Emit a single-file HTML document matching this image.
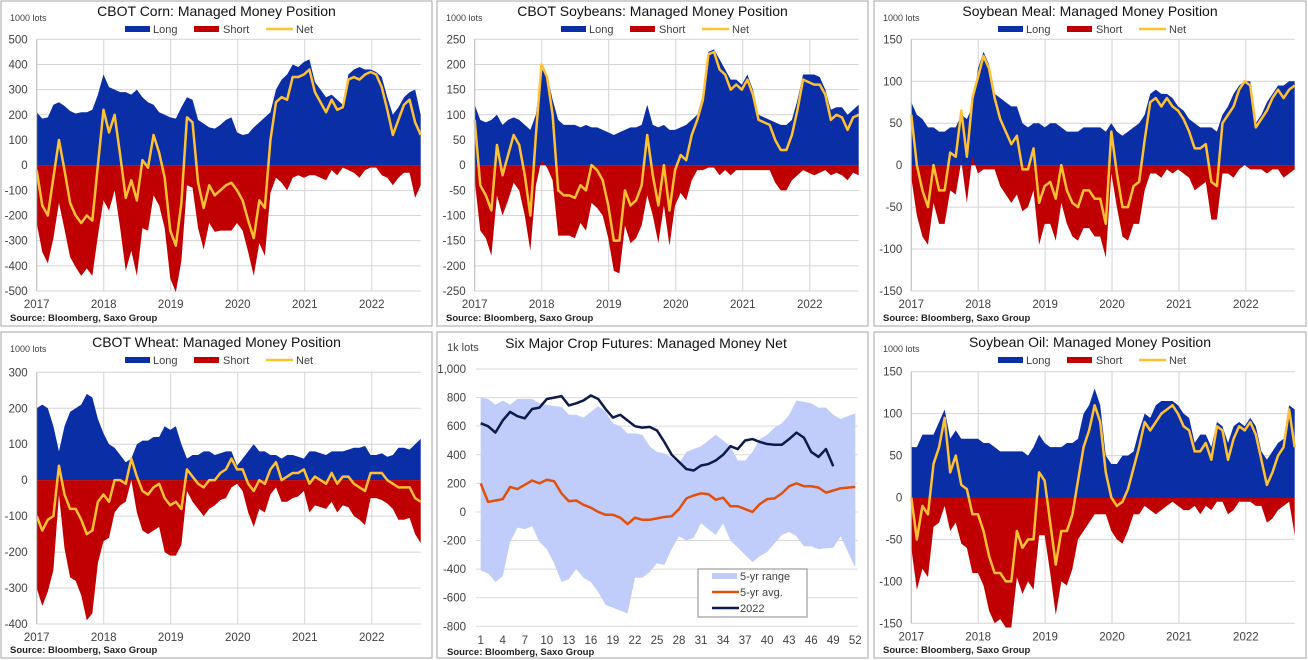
<!DOCTYPE html>
<html><head><meta charset="utf-8"><style>
html,body{margin:0;padding:0;background:#fff;}
svg{display:block;font-family:"Liberation Sans",sans-serif;}
</style></head><body>
<svg id="root" width="1308" height="660" viewBox="0 0 1308 660" xmlns="http://www.w3.org/2000/svg"></svg>
<script>
const years = ['2017','2018','2019','2020','2021','2022'];
const cornLong = [210,185,190,240,250,235,215,205,210,210,220,280,360,310,300,290,290,280,300,270,250,240,210,200,190,185,230,270,260,180,165,150,145,160,180,190,130,120,125,150,170,190,210,300,340,360,400,390,410,420,330,300,270,280,260,240,360,380,390,380,380,370,350,270,200,230,270,290,300,200];
const cornNet = [-20,-160,-200,-50,100,-20,-150,-200,-230,-200,-220,0,220,130,200,40,-130,-60,-140,20,-10,120,50,-50,-260,-320,-150,190,170,-70,-170,-80,-120,-100,-80,-70,-100,-140,-220,-290,-140,-170,100,250,270,260,350,350,360,380,290,250,210,260,220,230,340,350,340,360,370,360,310,220,120,180,240,260,170,120];
const soyLong = [120,90,85,90,100,80,90,95,90,80,70,100,190,180,130,90,80,80,80,75,80,75,75,70,65,60,65,70,75,75,80,120,80,75,80,70,70,75,80,90,100,140,225,230,210,190,170,170,160,180,150,100,95,90,85,80,80,90,130,180,180,180,175,150,110,115,115,100,110,120];
const soyNet = [90,-40,-60,-90,40,-20,20,60,40,-20,-100,60,200,175,100,-50,-60,-60,-65,-40,-50,0,-10,-30,-80,-150,-150,-50,-80,-70,-40,60,-20,-80,0,-90,-10,20,10,60,90,130,220,225,190,180,150,160,150,170,140,90,85,80,50,30,30,60,110,170,165,160,160,140,90,100,95,70,95,100];
const mealLong = [75,60,55,45,45,40,40,45,45,60,55,70,115,135,120,85,80,75,70,70,50,45,50,50,45,50,50,45,40,40,40,45,45,45,45,40,50,40,35,40,45,50,60,85,90,85,85,80,70,65,55,50,45,45,45,40,60,70,85,95,100,100,50,60,75,85,95,95,100,100];
const mealNet = [60,0,-30,-50,0,-30,-30,15,10,65,10,80,105,130,115,80,55,40,25,35,-5,-5,20,-45,-25,-20,-40,0,-30,-45,-50,-30,-30,-40,-40,-70,40,-10,-50,-50,-25,-20,30,75,80,70,80,70,65,55,40,20,20,25,-20,-25,50,60,70,90,100,95,45,55,65,80,90,80,90,95];
const wheatLong = [200,210,200,150,80,150,190,200,210,240,230,170,130,100,90,70,50,60,100,110,110,120,120,150,140,150,100,60,70,70,80,80,70,75,80,80,40,60,80,100,80,80,70,70,60,70,70,65,60,80,80,75,70,80,80,80,85,90,90,95,70,70,75,65,70,90,90,85,100,115];
const wheatNet = [-100,-140,-110,-100,40,-40,-80,-80,-110,-150,-140,-60,-40,-60,0,0,-10,60,10,-30,-40,-20,-10,-50,-70,-60,-80,30,10,-10,-20,0,0,20,30,60,30,30,-10,-30,0,-10,30,50,0,10,20,20,30,-10,10,0,-10,20,-10,10,10,-10,-20,-30,20,20,20,0,-10,-20,-20,-20,-50,-60];
const oilLong = [60,60,75,75,75,90,105,70,80,70,70,70,70,65,65,60,55,55,55,55,55,50,60,75,65,60,60,60,65,65,70,100,110,130,110,50,40,40,50,50,55,80,100,95,110,115,115,115,110,100,95,65,75,75,60,90,85,65,85,90,85,95,85,55,45,55,65,70,110,105];
const oilNet = [0,-50,-10,-20,40,60,95,30,50,15,10,-20,-20,-40,-70,-90,-90,-100,-100,-40,-60,-50,-50,30,20,-30,-80,-40,-40,-20,20,60,80,110,90,30,0,-10,-5,10,35,60,90,80,90,100,105,110,100,85,80,55,55,65,45,85,80,45,70,85,80,90,75,45,15,30,50,60,105,60];

const weeks = [];
for (let w = 1; w <= 52; w++) weeks.push(w);
const weekTicks = [1,4,7,10,13,16,19,22,25,28,31,34,37,40,43,46,49,52];
const net2022 = [620,600,555,640,700,670,655,720,730,790,800,810,745,760,780,815,790,720,660,680,640,600,590,595,570,490,400,350,300,290,325,335,360,400,460,440,500,510,490,475,470,470,510,555,520,420,385,440,320];
const avg5yr = [200,70,80,90,175,160,190,220,200,225,215,130,75,80,50,30,0,-20,-20,-40,-85,-40,-55,-55,-45,-35,-30,20,95,115,130,125,85,100,40,40,20,0,55,90,95,130,180,200,180,180,170,135,150,165,170,175];
const max5yr = [800,790,750,780,750,790,790,790,760,750,740,735,680,680,660,700,740,700,620,600,550,550,540,460,420,410,380,340,420,440,460,500,540,500,460,360,360,420,510,540,590,620,680,780,770,760,730,730,680,650,670,690];
const min5yr = [-410,-430,-490,-450,-210,-110,-120,-100,-210,-260,-360,-490,-470,-400,-460,-490,-560,-650,-670,-690,-710,-460,-460,-420,-360,-370,-260,-170,-200,-180,-80,-120,-160,-80,-200,-250,-300,-350,-310,-280,-220,-160,-140,-170,-240,-240,-260,-255,-250,-170,-280,-390];
const sixTicks = [1000,800,600,400,200,0,-200,-400,-600,-800];

const NS = 'http://www.w3.org/2000/svg';
const root = document.getElementById('root');
function mk(tag, attrs, parent) {
  const e = document.createElementNS(NS, tag);
  for (const k in attrs) e.setAttribute(k, attrs[k]);
  (parent || root).appendChild(e);
  return e;
}
function fmt(v){ return Math.abs(v) >= 1000 ? (v<0?'-':'') + '1,' + String(Math.abs(v)).slice(1) : String(v); }

const panels = [
  {key:'corn', title:'CBOT  Corn: Managed Money Position', fx:1, fy:1, fw:431, fh:325, x0:36.7, x1:420.7, yT:39.3, yB:291, vMax:500, vMin:-500, step:100, long:cornLong, net:cornNet, lots:'1000 lots'},
  {key:'soybeans', title:'CBOT  Soybeans: Managed Money Position', fx:437, fy:1, fw:431, fh:325, x0:474.7, x1:858.7, yT:39.3, yB:291, vMax:250, vMin:-250, step:50, long:soyLong, net:soyNet, lots:'1000 lots'},
  {key:'soybean-meal', title:'Soybean  Meal: Managed Money Position', fx:874, fy:1, fw:432, fh:325, x0:911.3, x1:1294.7, yT:39.3, yB:291, vMax:150, vMin:-150, step:50, long:mealLong, net:mealNet, lots:'1000 lots'},
  {key:'wheat', title:'CBOT  Wheat: Managed Money Position', fx:1, fy:332, fw:431, fh:326, x0:36.7, x1:420.7, yT:372.3, yB:624, vMax:300, vMin:-400, step:100, long:wheatLong, net:wheatNet, lots:'1000 lots'},
  {key:'soybean-oil', title:'Soybean  Oil: Managed Money Position', fx:874, fy:332, fw:432, fh:326, x0:911.3, x1:1294.7, yT:371.7, yB:623.3, vMax:150, vMin:-150, step:50, long:oilLong, net:oilNet, lots:'1000 lots'}
];

panels.forEach(p => {
  const g = mk('g', {});
  
  
  const frame = mk('rect', {x:p.fx, y:p.fy, width:p.fw, height:p.fh, fill:'#fff', stroke:'#a6a6a6', 'stroke-width':1}, g);
  
  
  const span = 5.73;
  const X = t => p.x0 + t / span * (p.x1 - p.x0);
  const Y = v => p.yT + (p.vMax - v) / (p.vMax - p.vMin) * (p.yB - p.yT);
  for (let v = p.vMax; v >= p.vMin; v -= p.step) {
    const gl = mk('line', {x1:p.x0, x2:p.x1, y1:Y(v), y2:Y(v), stroke:'#d4d4d4', 'stroke-width':1}, g);
    
    
    const tl = mk('text', {x:p.x0 - 9, y:Y(v) + 4, 'text-anchor':'end', 'font-size':11.5, fill:'#404040'}, g);
    tl.textContent = String(v);
    
    
  }
  years.forEach((yr, k) => {
    const vl = mk('line', {x1:X(k), x2:X(k), y1:p.yT, y2:p.yB, stroke:'#d4d4d4', 'stroke-width':1}, g);
    
    
    const xl = mk('text', {x:X(k), y:p.yB + 17, 'text-anchor':'middle', 'font-size':11.5, fill:'#404040'}, g);
    xl.textContent = yr;
    
    
  });
  const n = p.long.length;
  const tx = i => X(i * span / (n - 1));
  let lp = 'M' + tx(0) + ',' + Y(0);
  let sp = 'M' + tx(0) + ',' + Y(0);
  let np = '';
  for (let i = 0; i < n; i++) {
    const shortV = p.net[i] - p.long[i];
    lp += ' L' + tx(i) + ',' + Y(p.long[i]);
    sp += ' L' + tx(i) + ',' + Y(shortV);
    np += (i ? ' L' : 'M') + tx(i) + ',' + Y(p.net[i]);
  }
  lp += ' L' + tx(n - 1) + ',' + Y(0) + ' Z';
  sp += ' L' + tx(n - 1) + ',' + Y(0) + ' Z';
  const la = mk('path', {d:lp, fill:'#0a2ea6'}, g);
  
  
  const sa = mk('path', {d:sp, fill:'#c00000'}, g);
  
  
  const nl = mk('path', {d:np, fill:'none', stroke:'#ffc133', 'stroke-width':2.5, 'stroke-linejoin':'round'}, g);
  
  
  const ax = mk('line', {x1:p.x0, x2:p.x0, y1:p.yT, y2:p.yB, stroke:'#bfbfbf', 'stroke-width':1}, g);
  
  
  const cx = p.fx + p.fw / 2;
  const tt = mk('text', {x:cx, y:p.fy + 15, 'text-anchor':'middle', 'font-size':14, fill:'#111'}, g);
  tt.textContent = p.title;
  
  
  const lots = mk('text', {x:p.fx + 9, y:p.fy + 20, 'font-size':9, fill:'#404040'}, g);
  lots.textContent = p.lots;
  
  
  const ly = p.fy + 28;
  const lx = p.fx + 124;
  const l1 = mk('rect', {x:lx, y:ly - 3, width:25, height:6, fill:'#0a2ea6'}, g);
  
  
  const t1 = mk('text', {x:lx + 28, y:ly + 4, 'font-size':11, fill:'#404040'}, g);
  t1.textContent = 'Long';
  
  
  const l2 = mk('rect', {x:lx + 69, y:ly - 3, width:25, height:6, fill:'#c00000'}, g);
  
  
  const t2 = mk('text', {x:lx + 98, y:ly + 4, 'font-size':11, fill:'#404040'}, g);
  t2.textContent = 'Short';
  
  
  const l3 = mk('line', {x1:lx + 141, x2:lx + 168, y1:ly, y2:ly, stroke:'#ffc133', 'stroke-width':2.5}, g);
  
  
  const t3 = mk('text', {x:lx + 171, y:ly + 4, 'font-size':11, fill:'#404040'}, g);
  t3.textContent = 'Net';
  
  
  const src = mk('text', {x:p.fx + 9, y:p.fy + p.fh - 5, 'font-size':9.5, 'font-weight':'bold', fill:'#222'}, g);
  src.textContent = 'Source: Bloomberg, Saxo Group';
  
  
});

(function(){
  const g = mk('g', {});
  
  
  const frame = mk('rect', {x:437, y:332, width:431, height:326, fill:'#fff', stroke:'#a6a6a6', 'stroke-width':1}, g);
  
  
  const x0 = 476, x1 = 857.7, yT = 369, yB = 626.3, vMax = 1000, vMin = -800;
  const X = w => 480.7 + (w - 1) / 51 * (855.3 - 480.7);
  const Y = v => yT + (vMax - v) / (vMax - vMin) * (yB - yT);
  sixTicks.forEach(v => {
    const gl = mk('line', {x1:x0, x2:x1, y1:Y(v), y2:Y(v), stroke:'#d9d9d9', 'stroke-width':1}, g);
    
    
    const tl = mk('text', {x:466, y:Y(v) + 4, 'text-anchor':'end', 'font-size':11.5, fill:'#404040'}, g);
    tl.textContent = fmt(v);
    
    
  });
  weekTicks.forEach(w => {
    const xl = mk('text', {x:X(w), y:644, 'text-anchor':'middle', 'font-size':11.5, fill:'#404040'}, g);
    xl.textContent = String(w);
    
    
  });
  let rp = '';
  weeks.forEach((w, i) => { rp += (i ? ' L' : 'M') + X(w) + ',' + Y(max5yr[i]); });
  for (let i = weeks.length - 1; i >= 0; i--) rp += ' L' + X(weeks[i]) + ',' + Y(min5yr[i]);
  rp += ' Z';
  const ra = mk('path', {d:rp, fill:'#c0cdfa'}, g);
  
  
  let ap = '';
  avg5yr.forEach((v, i) => { ap += (i ? ' L' : 'M') + X(weeks[i]) + ',' + Y(v); });
  const al = mk('path', {d:ap, fill:'none', stroke:'#e2500e', 'stroke-width':2.5, 'stroke-linejoin':'round'}, g);
  
  
  let cp = '';
  net2022.forEach((v, i) => { cp += (i ? ' L' : 'M') + X(weeks[i]) + ',' + Y(v); });
  const cl = mk('path', {d:cp, fill:'none', stroke:'#0d1a50', 'stroke-width':2.5, 'stroke-linejoin':'round'}, g);
  
  
  const tt = mk('text', {x:646, y:348, 'text-anchor':'middle', 'font-size':14, fill:'#111'}, g);
  tt.textContent = 'Six Major Crop Futures: Managed Money Net';
  
  
  const lots = mk('text', {x:447, y:351, 'font-size':11, fill:'#404040'}, g);
  lots.textContent = '1k lots';
  
  
  const lb = mk('rect', {x:698, y:569, width:109, height:48, fill:'#fff', stroke:'#b0b0b0', 'stroke-width':1.5}, g);
  
  
  const s1 = mk('rect', {x:712, y:573, width:25, height:6, fill:'#c0cdfa'}, g);
  
  
  const t1 = mk('text', {x:740, y:580, 'font-size':11, fill:'#404040'}, g);
  t1.textContent = '5-yr range';
  
  
  const s2 = mk('line', {x1:712, x2:739, y1:592, y2:592, stroke:'#e2500e', 'stroke-width':2.5}, g);
  
  
  const t2 = mk('text', {x:740, y:596, 'font-size':11, fill:'#404040'}, g);
  t2.textContent = '5-yr avg.';
  
  
  const s3 = mk('line', {x1:712, x2:739, y1:608, y2:608, stroke:'#0d1a50', 'stroke-width':2.5}, g);
  
  
  const t3 = mk('text', {x:740, y:612, 'font-size':11, fill:'#404040'}, g);
  t3.textContent = '2022';
  
  
  const src = mk('text', {x:447, y:655, 'font-size':9.5, 'font-weight':'bold', fill:'#222'}, g);
  src.textContent = 'Source: Bloomberg, Saxo Group';
  
  
})();
</script>
</body></html>
